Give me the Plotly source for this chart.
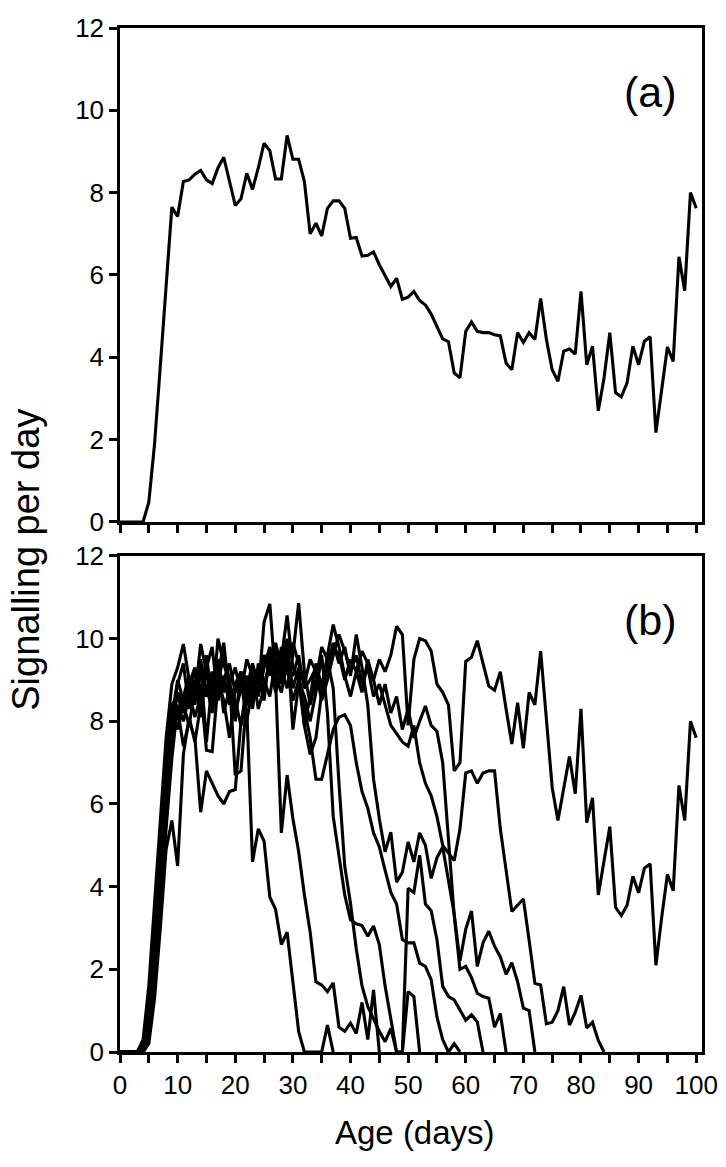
import plotly.graph_objects as go

# ---------------- data ----------------
DAYS = list(range(0, 101))

# panel (a): mean signalling per day
MEAN_SIGNAL = [0, 0, 0, 0, 0, 0.48, 1.9, 3.8, 5.85, 7.65,
               7.42, 8.27, 8.31, 8.45, 8.54, 8.31, 8.22, 8.6, 8.86, 8.3,
               7.69, 7.85, 8.47, 8.08, 8.6, 9.2, 9.02, 8.33, 8.33, 9.39,
               8.81, 8.81, 8.27, 7.0, 7.26, 6.95, 7.62, 7.8, 7.8, 7.62,
               6.89, 6.91, 6.46, 6.48, 6.56, 6.25, 6.0, 5.72, 5.92, 5.41,
               5.46, 5.6, 5.38, 5.27, 5.05, 4.75, 4.45, 4.38, 3.62, 3.5,
               4.63, 4.86, 4.63, 4.6, 4.6, 4.55, 4.52, 3.86, 3.7, 4.6,
               4.36, 4.6, 4.43, 5.43, 4.43, 3.7, 3.42, 4.15, 4.2, 4.08,
               5.6, 3.82, 4.27, 2.7, 3.5, 4.6, 3.14, 3.04, 3.38, 4.27,
               3.82, 4.39, 4.5, 2.17, 3.26, 4.25, 3.9, 6.44, 5.62, 8.0,
               7.62]

# panel (b): individual trajectories (values from day 0 until the line ends)
BEE_1 = [0, 0, 0, 0, 0, 0.4, 1.9, 3.8, 5.8, 7.5,
         8.3, 7.4, 8.0, 7.6, 5.8, 6.8, 6.5, 6.2, 6.0, 6.3,
         6.35, 8.0, 8.3, 4.6, 5.4, 5.1, 3.75, 3.45, 2.6, 2.9,
         1.7, 0.5, 0, 0, 0, 0, 0.65, 0]
BEE_2 = [0, 0, 0, 0, 0, 0.2, 1.3, 3.0, 4.9, 5.6,
         4.5, 7.2, 8.1, 7.5, 8.4, 8.9, 8.2, 9.0, 8.5, 7.6,
         8.8, 9.1, 8.4, 9.0, 8.7, 10.4, 10.84, 9.0, 5.3, 6.7,
         5.65, 4.85, 3.8, 2.9, 1.7, 1.62, 1.46, 1.67, 0.6, 0.5,
         0.7, 0.45, 1.2, 0.3, 1.5, 0]
BEE_3 = [0, 0, 0, 0, 0.3, 1.6, 3.6, 5.6, 7.6, 8.9,
         9.3, 9.87, 9.0, 8.6, 9.87, 9.2, 8.3, 10.0, 9.4, 8.9,
         9.3, 8.7, 9.5, 9.1, 8.6, 9.3, 9.8, 9.2, 9.5, 10.56,
         9.3, 9.0, 8.6, 8.0, 8.7, 9.6, 8.2, 5.7, 4.7, 3.8,
         3.2, 3.1, 3.06, 2.8, 3.05, 2.6, 1.6, 0.8, 0, 0,
         1.46, 1.34, 0]
BEE_4 = [0, 0, 0, 0, 0, 0.8, 2.6, 4.6, 6.8, 8.2,
         7.8, 8.6, 9.1, 8.4, 9.3, 7.5, 9.0, 9.5, 8.7, 9.0,
         8.0, 9.2, 8.8, 9.4, 8.9, 9.6, 9.1, 9.9, 9.3, 8.8,
         9.6, 10.86, 9.2, 8.4, 9.0, 9.8, 9.5, 8.8, 6.5, 4.5,
         3.6, 2.5, 1.6, 1.1, 0.8, 0.5, 0.25, 0.57, 0, 0,
         3.96, 3.86, 4.76, 3.58, 3.42, 2.72, 1.59, 1.34, 1.26, 1.02,
         0.77, 0.9, 0.73, 0]
BEE_5 = [0, 0, 0, 0, 0, 0.3, 1.6, 3.4, 5.4, 7.1,
         8.4, 8.0, 8.6, 9.2, 8.8, 7.3, 7.27, 8.9, 9.6, 9.0,
         6.7, 6.8, 8.6, 9.2, 8.3, 8.8, 9.5, 8.7, 9.2, 10.0,
         7.8, 8.9, 8.3, 7.6, 6.6, 6.6, 7.2, 7.8, 8.1, 8.16,
         7.9, 7.0, 6.3, 5.9, 5.3, 4.96, 4.4, 3.86, 3.58, 2.72,
         2.64, 2.64, 2.15, 2.07, 1.75, 0.85, 0.3, 0, 0.2, 0]
BEE_6 = [0, 0, 0, 0, 0, 0.6, 2.4, 4.3, 6.3, 7.8,
         8.7, 8.4, 7.9, 8.8, 9.5, 8.6, 8.9, 9.4, 8.2, 8.8,
         8.5, 7.9, 8.9, 8.5, 9.1, 8.8, 9.4, 9.7, 8.9, 9.3,
         8.5, 9.0, 7.9, 8.6, 9.4, 8.8, 9.6, 10.34, 9.8, 9.1,
         8.6, 9.2, 8.7, 9.5, 9.0, 8.4, 8.9, 8.2, 8.6, 7.8,
         8.3, 7.6, 8.0, 8.37, 7.9, 7.76, 7.0, 5.2, 3.3, 2.0,
         2.07, 1.8, 1.42, 1.34, 1.3, 0.6, 0.93, 0]
BEE_7 = [0, 0, 0, 0, 0.2, 1.1, 2.9, 4.9, 7.0, 8.1,
         9.0, 8.5, 8.7, 8.1, 8.6, 9.6, 8.5, 9.1, 9.9, 8.6,
         8.2, 8.8, 9.1, 8.3, 9.4, 9.0, 8.6, 9.5, 9.0, 9.7,
         8.8, 9.3, 7.9, 7.2, 7.6, 8.7, 9.3, 9.9, 9.4, 9.8,
         9.1, 10.1, 9.3, 8.4, 6.6, 5.65, 4.84, 5.32, 4.11, 4.35,
         5.08, 4.6, 5.3, 5.0, 4.2, 4.7, 4.96, 4.1, 3.33, 2.2,
         2.97, 3.41, 2.07, 2.64, 2.92, 2.56, 2.3, 1.88, 2.16, 1.7,
         1.06, 1.0, 0]
BEE_8 = [0, 0, 0, 0, 0, 0.9, 2.8, 4.8, 6.6, 8.0,
         8.9, 9.4, 8.3, 9.0, 8.1, 9.3, 9.8, 8.5, 9.0, 9.4,
         8.7, 9.0, 8.0, 8.8, 9.2, 8.5, 9.7, 9.1, 8.7, 9.4,
         9.9, 9.4, 8.9, 9.5, 9.2, 8.5, 9.0, 9.6, 10.1, 9.7,
         9.2, 9.6, 8.9, 9.3, 8.6, 8.9, 8.4, 7.9, 7.7, 7.5,
         7.4, 7.9, 7.0, 6.5, 6.2, 5.7, 5.0, 4.8, 4.63, 5.4,
         6.75, 6.8, 6.5, 6.75, 6.8, 6.8, 5.4, 4.4, 3.4, 3.55,
         3.7, 2.7, 1.66, 1.62, 0.68, 0.72, 1.0, 1.58, 0.65, 0.96,
         1.37, 0.58, 0.72, 0.28, 0]
BEE_9 = [0, 0, 0, 0, 0.1, 1.3, 3.1, 5.2, 7.2, 8.4,
         8.6, 8.2, 8.9, 9.3, 8.5, 8.7, 9.2, 8.8, 9.1, 8.4,
         8.9, 9.2, 8.6, 9.3, 9.0, 9.6, 9.3, 8.9, 9.8, 9.4,
         9.1, 9.6, 8.8, 9.0, 9.3, 8.9, 9.4, 9.8, 9.6, 9.0,
         9.5, 9.2, 9.7, 9.4, 9.0, 9.5, 9.2, 9.6, 10.3, 10.1,
         7.9, 9.5, 10.0, 9.95, 9.7, 8.9, 8.7, 8.4, 6.8, 7.0,
         9.45, 9.55, 9.95, 9.4, 8.85, 8.75, 9.2, 8.3, 7.45, 8.45,
         7.35, 8.7, 8.4, 9.7, 8.0, 6.4, 5.6, 6.4, 7.15, 6.25,
         8.3, 5.55, 6.15, 3.8, 4.6, 5.45, 3.5, 3.3, 3.55, 4.25,
         3.85, 4.45, 4.55, 2.1, 3.25, 4.3, 3.9, 6.45, 5.6, 8.0,
         7.6]
BEES = [BEE_1, BEE_2, BEE_3, BEE_4, BEE_5, BEE_6, BEE_7, BEE_8, BEE_9]

X_TICKS = [0, 10, 20, 30, 40, 50, 60, 70, 80, 90, 100]
X_MINOR = [5, 15, 25, 35, 45, 55, 65, 75, 85, 95]
Y_TICKS = [0, 2, 4, 6, 8, 10, 12]

# ---------------- figure ----------------
FONT = "Liberation Sans, Arial, sans-serif"
LINE = dict(color="black", width=3.1)

fig = go.Figure()
fig.add_trace(go.Scatter(x=DAYS, y=MEAN_SIGNAL, mode="lines", line=LINE,
                         xaxis="x", yaxis="y", showlegend=False, hoverinfo="skip"))
for bee in BEES:
    fig.add_trace(go.Scatter(x=DAYS[:len(bee)], y=bee, mode="lines", line=LINE,
                             xaxis="x2", yaxis="y2", showlegend=False, hoverinfo="skip"))

tickfont = dict(family=FONT, size=26, color="black")
common_x = dict(range=[0, 101], tickmode="array", tickvals=X_TICKS, ticks="outside",
                ticklen=8, tickwidth=2.5, tickcolor="black", showline=True, linecolor="black",
                linewidth=2.5, mirror=True, showgrid=False, zeroline=False, tickfont=tickfont,
                automargin=False,
                minor=dict(tickmode="array", tickvals=X_MINOR, ticks="outside", ticklen=8,
                           tickwidth=2.5, tickcolor="black", showgrid=False))
common_y = dict(range=[0, 12], tickmode="array", tickvals=Y_TICKS, ticks="outside",
                ticklen=8, tickwidth=2.5, tickcolor="black", showline=True, linecolor="black",
                linewidth=2.5, mirror=True, showgrid=False, zeroline=False, tickfont=tickfont,
                automargin=False)

fig.update_layout(
    width=726, height=1167,
    margin=dict(l=120, r=24, t=28, b=115),
    paper_bgcolor="white", plot_bgcolor="white",
    xaxis=dict(common_x, anchor="y", domain=[0, 1], showticklabels=False),
    yaxis=dict(common_y, anchor="x", domain=[0.5176, 1.0]),
    xaxis2=dict(common_x, anchor="y2", domain=[0, 1], showticklabels=True),
    yaxis2=dict(common_y, anchor="x2", domain=[0.0, 0.4844]),
    annotations=[
        dict(text="(a)", x=92.0, y=10.45, xref="x", yref="y", showarrow=False,
             font=dict(family=FONT, size=43, color="black")),
        dict(text="(b)", x=92.0, y=10.45, xref="x2", yref="y2", showarrow=False,
             font=dict(family=FONT, size=43, color="black")),
        dict(text="Age (days)", x=0.507, y=-0.079, xref="paper", yref="paper",
             showarrow=False, xanchor="center", yanchor="middle",
             font=dict(family=FONT, size=33, color="black")),
        dict(text="Signalling per day", x=-0.161, y=0.481, xref="paper", yref="paper",
             showarrow=False, xanchor="center", yanchor="middle", textangle=-90,
             font=dict(family=FONT, size=38, color="black")),
    ],
)

fig.write_html("out.html", config={"displayModeBar": False},
               post_script="document.body.style.margin='0px';")
